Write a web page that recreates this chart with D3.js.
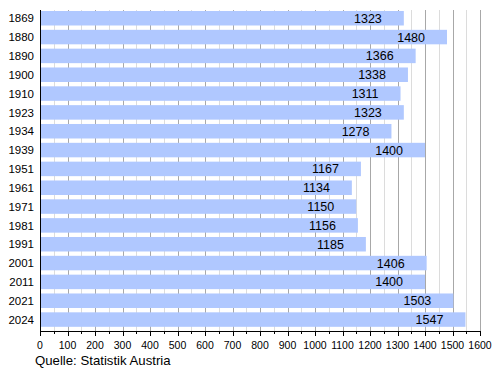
<!DOCTYPE html>
<html>
<head>
<meta charset="utf-8">
<script src="https://cdn.jsdelivr.net/npm/d3@7"></script>
<style>
  body { margin: 0; background: #fff; }
  text { font-family: "Liberation Sans", Arial, sans-serif; fill: #000; }
  .tick-label { font-family: "Liberation Sans Narrow", "Liberation Sans", Arial, sans-serif; }
</style>
</head>
<body>
<svg id="chart" width="500" height="370"></svg>
<script>
// data
const years = ['1869', '1880', '1890', '1900', '1910', '1923', '1934', '1939', '1951',
  '1961', '1971', '1981', '1991', '2001', '2011', '2021', '2024'];
const population = [1323, 1480, 1366, 1338, 1311, 1323, 1278, 1400, 1167,
  1134, 1150, 1156, 1185, 1406, 1400, 1503, 1547];
const majorTicks = d3.range(0, 1601, 100);
const minorTicks = d3.range(50, 1600, 100);
const source = 'Quelle: Statistik Austria';

const svg = d3.select('#chart');
const plotLeft = 40, plotRight = 480, plotTop = 10, axisY = 331;

const x = d3.scaleLinear().domain([0, 1600]).range([plotLeft, plotRight]);
const y = d3.scaleBand()
  .domain(years)
  .range([9.1, 328.7])
  .paddingInner(0.23)
  .paddingOuter(0.1);

const px = d => Math.round(x(d)) + 0.5;

// gridlines behind the bars
svg.append('g')
  .selectAll('line')
  .data(minorTicks)
  .join('line')
  .attr('x1', px).attr('x2', px)
  .attr('y1', plotTop).attr('y2', axisY)
  .attr('stroke', '#dcdcdc');

svg.append('g')
  .selectAll('line')
  .data(majorTicks.filter(d => d > 0))
  .join('line')
  .attr('x1', px).attr('x2', px)
  .attr('y1', plotTop).attr('y2', axisY)
  .attr('stroke', '#a8a8a8');

// bars
svg.append('g')
  .selectAll('rect')
  .data(population)
  .join('rect')
  .attr('x', x(0))
  .attr('y', (d, i) => y(years[i]))
  .attr('width', d => x(d) - x(0))
  .attr('height', y.bandwidth())
  .attr('fill', '#b0c8ff');

// value labels
svg.append('g')
  .selectAll('text')
  .data(population)
  .join('text')
  .attr('x', d => x(d) - 22)
  .attr('y', (d, i) => y(years[i]) + y.bandwidth() / 2)
  .attr('dy', '0.36em')
  .attr('text-anchor', 'end')
  .style('font-size', '12.5px')
  .text(d => d);

// year labels
svg.append('g')
  .selectAll('text')
  .data(years)
  .join('text')
  .attr('class', 'tick-label')
  .attr('x', 34)
  .attr('y', d => y(d) + y.bandwidth() / 2)
  .attr('dy', '0.36em')
  .attr('text-anchor', 'end')
  .style('font-size', '11.5px')
  .text(d => d);

// axes
svg.append('line')
  .attr('x1', plotLeft).attr('x2', plotRight + 1)
  .attr('y1', axisY + 0.5).attr('y2', axisY + 0.5)
  .attr('stroke', '#000');

svg.append('line')
  .attr('x1', plotLeft + 0.5).attr('x2', plotLeft + 0.5)
  .attr('y1', plotTop).attr('y2', axisY + 5)
  .attr('stroke', '#000');

svg.append('g')
  .selectAll('line')
  .data(majorTicks)
  .join('line')
  .attr('x1', px).attr('x2', px)
  .attr('y1', axisY).attr('y2', axisY + 5)
  .attr('stroke', '#000');

svg.append('g')
  .selectAll('line')
  .data(minorTicks)
  .join('line')
  .attr('x1', px).attr('x2', px)
  .attr('y1', axisY).attr('y2', axisY + 3)
  .attr('stroke', '#000');

svg.append('g')
  .selectAll('text')
  .data(majorTicks)
  .join('text')
  .attr('class', 'tick-label')
  .attr('x', d => x(d))
  .attr('y', 345)
  .attr('dy', '0.36em')
  .attr('text-anchor', 'middle')
  .style('font-size', '10.5px')
  .text(d => d);

svg.append('text')
  .attr('x', 35)
  .attr('y', 360.5)
  .attr('dy', '0.36em')
  .style('font-size', '13.2px')
  .text(source);
</script>
</body>
</html>
